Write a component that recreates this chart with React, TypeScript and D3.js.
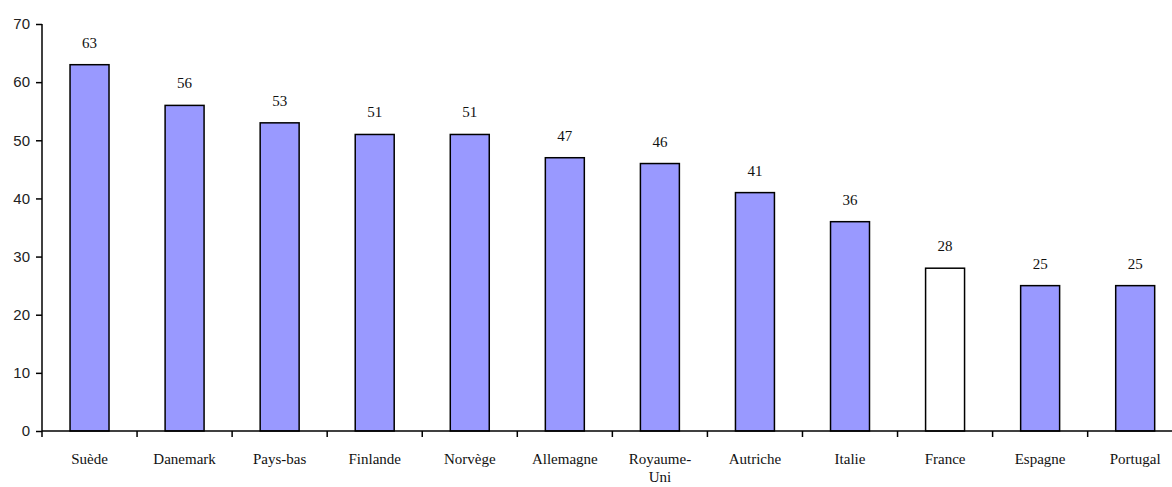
import * as d3 from "d3"
import React, { useEffect, useRef } from "react"

const countries = ["Suède", "Danemark", "Pays-bas", "Finlande", "Norvège", "Allemagne", "Royaume-Uni", "Autriche", "Italie", "France", "Espagne", "Portugal"]
const values = [63, 56, 53, 51, 51, 47, 46, 41, 36, 28, 25, 25]
const yTicks = [0, 10, 20, 30, 40, 50, 60, 70]
const highlight = "France"

const App = () => {
    const svgRef = useRef<SVGSVGElement>(null)

    useEffect(() => {
        const width = 1172
        const height = 487
        const left = 42
        const bottom = 431
        const top = 24
        const serif = "'Liberation Serif', 'Times New Roman', serif"

        const svg = d3.select(svgRef.current)
            .attr("width", width)
            .attr("height", height)
        svg.selectAll("*").remove()

        const data = countries.map((c, i) => ({ name: c, value: values[i] }))

        const x = d3.scaleBand()
            .domain(countries)
            .range([left, left + 12 * 95.06])
            .paddingInner(0.59)
            .paddingOuter(0.295)

        const y = d3.scaleLinear()
            .domain([0, 70])
            .range([bottom, top])

        // bars
        svg.selectAll(".bar")
            .data(data)
            .join("rect")
            .attr("class", "bar")
            .attr("x", d => x(d.name)!)
            .attr("y", d => y(d.value))
            .attr("width", x.bandwidth())
            .attr("height", d => y(0) - y(d.value))
            .attr("fill", d => d.name === highlight ? "#ffffff" : "#9999ff")
            .attr("stroke", "#000")
            .attr("stroke-width", 1.5)

        // value labels
        svg.selectAll(".label")
            .data(data)
            .join("text")
            .attr("class", "label")
            .attr("x", d => x(d.name)! + x.bandwidth() / 2)
            .attr("y", d => y(d.value) - 17)
            .attr("text-anchor", "middle")
            .attr("font-family", serif)
            .attr("font-size", 15)
            .attr("fill", "#111")
            .text(d => d.value)

        // y axis
        const yAxis = svg.append("g")
            .attr("transform", `translate(${left},0)`)
            .call(d3.axisLeft(y).tickValues(yTicks).tickSize(6).tickPadding(6))
        yAxis.select(".domain").attr("stroke-width", 1.5).attr("d", `M0,${top}V${bottom}`)
        yAxis.selectAll(".tick line").attr("stroke-width", 1.5)
        yAxis.attr("font-family", "'Liberation Sans', sans-serif").attr("font-size", 15)
        yAxis.selectAll("text").attr("fill", "#222")

        // x axis: baseline with separators between categories
        const step = x.step()
        const seps = d3.range(countries.length + 1).map(i => left + i * step)
        svg.append("line")
            .attr("x1", left).attr("x2", width)
            .attr("y1", bottom).attr("y2", bottom)
            .attr("stroke", "#000").attr("stroke-width", 1.5)
        svg.selectAll(".sep")
            .data(seps)
            .join("line")
            .attr("class", "sep")
            .attr("x1", d => d).attr("x2", d => d)
            .attr("y1", bottom).attr("y2", bottom + 6)
            .attr("stroke", "#000").attr("stroke-width", 1.5)

        // category labels
        const labels = svg.selectAll(".cat")
            .data(data)
            .join("text")
            .attr("class", "cat")
            .attr("x", d => x(d.name)! + x.bandwidth() / 2)
            .attr("y", 464)
            .attr("text-anchor", "middle")
            .attr("font-family", serif)
            .attr("font-size", 15)
            .attr("fill", "#111")
        labels.each(function (d) {
            const t = d3.select(this)
            const parts = d.name === "Royaume-Uni" ? ["Royaume-", "Uni"] : [d.name]
            parts.forEach((p, i) => {
                t.append("tspan")
                    .attr("x", x(d.name)! + x.bandwidth() / 2)
                    .attr("dy", i === 0 ? 0 : 18)
                    .text(p)
            })
        })
    }, [])

    return <svg ref={svgRef} style={{ position: "absolute", left: 0, top: 0, display: "block" }}></svg>
}

export default App
